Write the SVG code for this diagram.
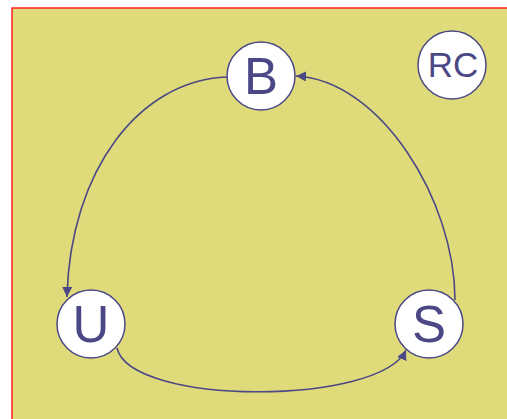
<svg xmlns="http://www.w3.org/2000/svg" width="507" height="419" viewBox="0 0 507 419">
  <style>
    .node circle { fill: #ffffff; stroke: #4b4885; stroke-width: 1.5; }
    .node text { font-family: "Liberation Sans", Arial, sans-serif; fill: #4b4885; text-anchor: middle; }
    .edge { fill: none; stroke: #4b4885; stroke-width: 1.6; }
  </style>
  <defs>
    <marker id="arrow" viewBox="0 0 10 10" refX="10" refY="5" markerWidth="10" markerHeight="10" markerUnits="userSpaceOnUse" orient="auto">
      <path d="M0,0 L10,5 L0,10 Z" fill="#4b4885"/>
    </marker>
  </defs>
  <rect width="507" height="419" fill="#ffffff"/>
  <rect x="12" y="8" width="500" height="420" fill="#dfdb7b" stroke="#ff2020" stroke-width="1.5"/>

  <g id="connectors">
    <path class="edge" d="M227,77 C140,80 70,170 67,297" marker-end="url(#arrow)"/>
    <path class="edge" d="M455,300 C455,200 380,80 296,76" marker-end="url(#arrow)"/>
    <path class="edge" d="M117,348 C130,406 380,406 406,350" marker-end="url(#arrow)"/>
  </g>

  <g id="node-B" class="node">
    <circle cx="261" cy="76" r="34"/>
    <text x="261" y="94" font-size="51">B</text>
  </g>
  <g id="node-RC" class="node">
    <circle cx="452" cy="65" r="34"/>
    <text x="453" y="77" font-size="35">RC</text>
  </g>
  <g id="node-U" class="node">
    <circle cx="91" cy="324" r="34"/>
    <text x="91" y="342" font-size="51">U</text>
  </g>
  <g id="node-S" class="node">
    <circle cx="429" cy="324" r="34"/>
    <text x="429" y="342" font-size="51">S</text>
  </g>
</svg>
